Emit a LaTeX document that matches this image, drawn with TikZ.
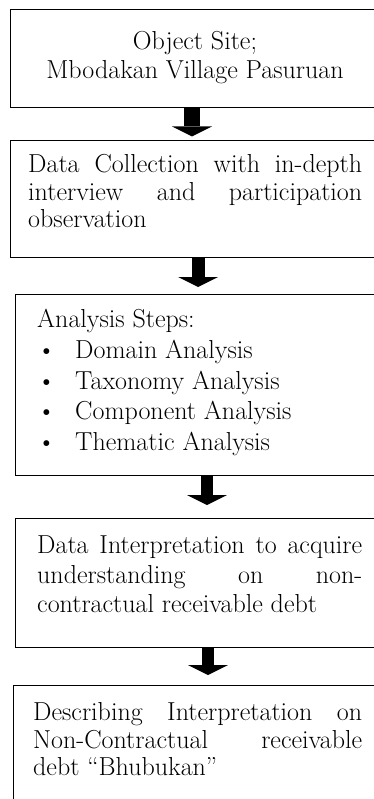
\documentclass[tikz,border=0pt]{standalone}
\usetikzlibrary{arrows.meta}
\tikzset{
  box/.style={draw, line width=1.4pt, rectangle, inner sep=0pt, anchor=north west},
  txt/.style={inner sep=0pt, font=\fontsize{26pt}{30pt}\selectfont, anchor=base west},
  ctxt/.style={txt, anchor=base},
  fatarrow/.style={line width=#1, -{Triangle[width=40pt,length=10pt,line width=0pt]}},
}
\begin{document}
\begin{tikzpicture}[x=1pt,y=-1pt]
\useasboundingbox (0,0) rectangle (374,799);
\clip (0,0) rectangle (374,799);
% boxes
\node[box, minimum width=390pt, minimum height=98pt]  (b1) at (10,9) {};
\node[box, minimum width=390pt, minimum height=117pt] (b2) at (10,140) {};
\node[box, minimum width=390pt, minimum height=181pt] (b3) at (15,294) {};
\node[box, minimum width=390pt, minimum height=129pt] (b4) at (15,518) {};
\node[box, minimum width=390pt, minimum height=140pt] (b5) at (12.7,685) {};
% texts
\node[ctxt] (t1a) at (195,50) {Object Site;};
\node[ctxt] (t1b) at (195,79) {Mbodakan Village Pasuruan};
\node[txt] (t2a) at (28,173) {\makebox[334pt][s]{Data Collection with in-depth}};
\node[txt] (t2b) at (28,200.5) {\makebox[334pt][s]{interview and participation}};
\node[txt] (t2c) at (28,228) {observation};
\node[txt] (t3a) at (37,327) {Analysis Steps:};
\node[txt] (u1) at (37,358) {\textbullet};
\node[txt] (u2) at (37,389) {\textbullet};
\node[txt] (u3) at (37,419) {\textbullet};
\node[txt] (u4) at (37,450) {\textbullet};
\node[txt] (t3b) at (75,358) {Domain Analysis};
\node[txt] (t3c) at (75,389) {Taxonomy Analysis};
\node[txt] (t3d) at (75,419) {Component Analysis};
\node[txt] (t3e) at (75,450) {Thematic Analysis};
\node[txt] (t4a) at (37,553) {\makebox[325pt][s]{Data Interpretation to acquire}};
\node[txt] (t4b) at (37,583) {\makebox[325pt][s]{understanding on non-}};
\node[txt] (t4c) at (37,612) {contractual receivable debt};
\node[txt] (t5a) at (33,720.5) {\makebox[329pt][s]{Describing Interpretation on}};
\node[txt] (t5b) at (33,748) {\makebox[329pt][s]{Non-Contractual receivable}};
\node[txt] (t5c) at (33,775) {debt \textquotedblleft Bhubukan\textquotedblright};
% arrows
\draw[fatarrow=16pt, shorten >=3.5pt] ([xshift=182pt]b1.south west) -- ([xshift=182pt]b1.south west |- b2.north);
\draw[fatarrow=13pt, shorten >=7pt] ([xshift=188pt]b2.south west) -- ([xshift=188pt]b2.south west |- b3.north);
\draw[fatarrow=12pt, shorten >=13pt] ([xshift=192pt]b3.south west) -- ([xshift=192pt]b3.south west |- b4.north);
\draw[fatarrow=12pt, shorten >=10pt] ([xshift=193pt]b4.south west) -- ([xshift=193pt]b4.south west |- b5.north);
\end{tikzpicture}
\end{document}
